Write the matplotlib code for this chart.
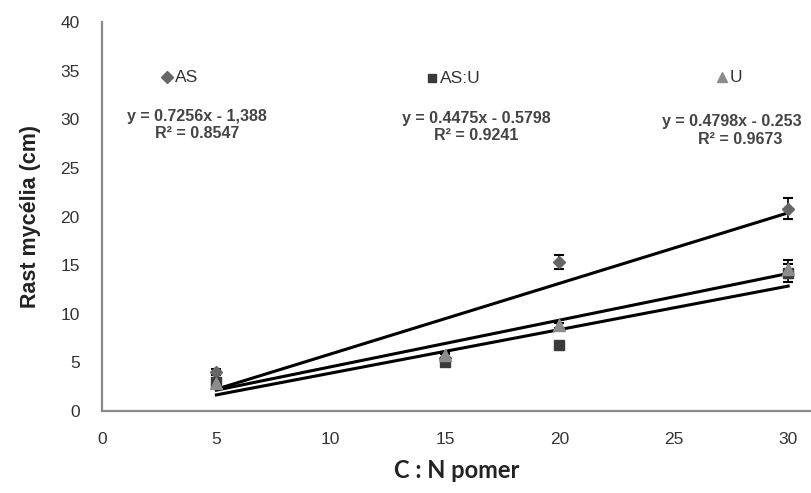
import matplotlib
matplotlib.use("Agg")
import matplotlib.pyplot as plt
import numpy as np

# C:N ratio levels
cn_ratio = [5, 15, 20, 30]

# Mean mycelium growth (cm) per substrate variant
growth_as = [4.0, 5.5, 15.3, 20.8]
growth_asu = [3.0, 5.0, 6.8, 14.2]
growth_u = [2.9, 5.8, 8.8, 14.6]

# Standard deviations
err_as = [0.3, 0.4, 0.7, 1.1]
err_asu = [0.3, 0.4, 0.3, 0.9]
err_u = [0.3, 0.3, 0.3, 0.9]

# Linear trendlines (slope, intercept, R²)
fit_as = (0.7256, -1.388, 0.8547)
fit_asu = (0.4475, -0.5798, 0.9241)
fit_u = (0.4798, -0.253, 0.9673)

eq_as = "y = 0.7256x - 1,388"
eq_asu = "y = 0.4475x - 0.5798"
eq_u = "y = 0.4798x - 0.253"

x_ticks = [0, 5, 10, 15, 20, 25, 30]
y_ticks = [0, 5, 10, 15, 20, 25, 30, 35, 40]

plt.rcParams['font.family'] = ['Liberation Sans', 'DejaVu Sans']

fig = plt.figure(figsize=(8.11, 4.93), dpi=100)
ax = fig.add_axes([0.1258, 0.1663, 0.8742, 0.7891])

series = [
    ("AS", growth_as, err_as, fit_as, eq_as, "D", "#666666", 6.5),
    ("AS:U", growth_asu, err_asu, fit_asu, eq_asu, "s", "#3a3a3a", 6.5),
    ("U", growth_u, err_u, fit_u, eq_u, "^", "#8c8c8c", 8),
]

for name, vals, errs, fit, eq, mk, col, ms in series:
    ax.errorbar(cn_ratio, vals, yerr=errs, fmt=mk, color=col, ms=ms,
                ecolor="black", elinewidth=1.2, capsize=3.5, capthick=1.5,
                mec=col, zorder=3)
    line_x = np.array([min(cn_ratio), max(cn_ratio)], dtype=float)
    ax.plot(line_x, fit[0] * line_x + fit[1], color="black", lw=2.2, zorder=2)

ax.set_xlim(0, 31)
ax.set_ylim(0, 40)
ax.set_xticks(x_ticks)
ax.set_yticks(y_ticks)
ax.tick_params(length=0, labelsize=12.5, colors="#333333")
ax.tick_params(axis="x", pad=15)
ax.tick_params(axis="y", pad=16)
for side in ("top", "right"):
    ax.spines[side].set_visible(False)
for side in ("left", "bottom"):
    ax.spines[side].set_color("#8a8a8a")
    ax.spines[side].set_linewidth(1.6)

ax.set_ylabel("Rast mycélia (cm)", fontsize=15.5, fontweight="bold", labelpad=14,
              color="#222222")
ax.set_xlabel("C : N pomer", fontsize=17, fontweight="bold", labelpad=9,
              family=["Lato", "DejaVu Sans"], color="#222222")

# Legend entries and trendline equations placed above each group
legend_pos = [(0.0917, 0.858), (0.4654, 0.856), (0.8745, 0.858)]
eq_pos = [(0.134, 0.756, 0.714, "center"), (0.5275, 0.753, 0.709, "center"),
          (0.79, 0.743, 0.699, "left")]
for (name, vals, errs, fit, eq, mk, col, ms), (lx, ly), (ex, ey, ry, ha) in zip(series, legend_pos, eq_pos):
    ax.plot([lx], [ly], marker=mk, color=col, ms=ms - 0.5, transform=ax.transAxes,
            clip_on=False, ls="none")
    ax.text(lx + 0.011, ly, name, transform=ax.transAxes, fontsize=12.5,
            va="center", ha="left", color="#333333")
    ax.text(ex, ey, eq, transform=ax.transAxes, fontsize=11.5, fontweight="bold",
            va="center", ha=ha, color="#444444")
    rx = ex if ha == "center" else ex + 0.11
    ax.text(rx, ry, "R² = %.4f" % fit[2], transform=ax.transAxes, fontsize=11.5,
            fontweight="bold", va="center", ha="center", color="#444444")

fig.savefig("out.png", dpi=100)
